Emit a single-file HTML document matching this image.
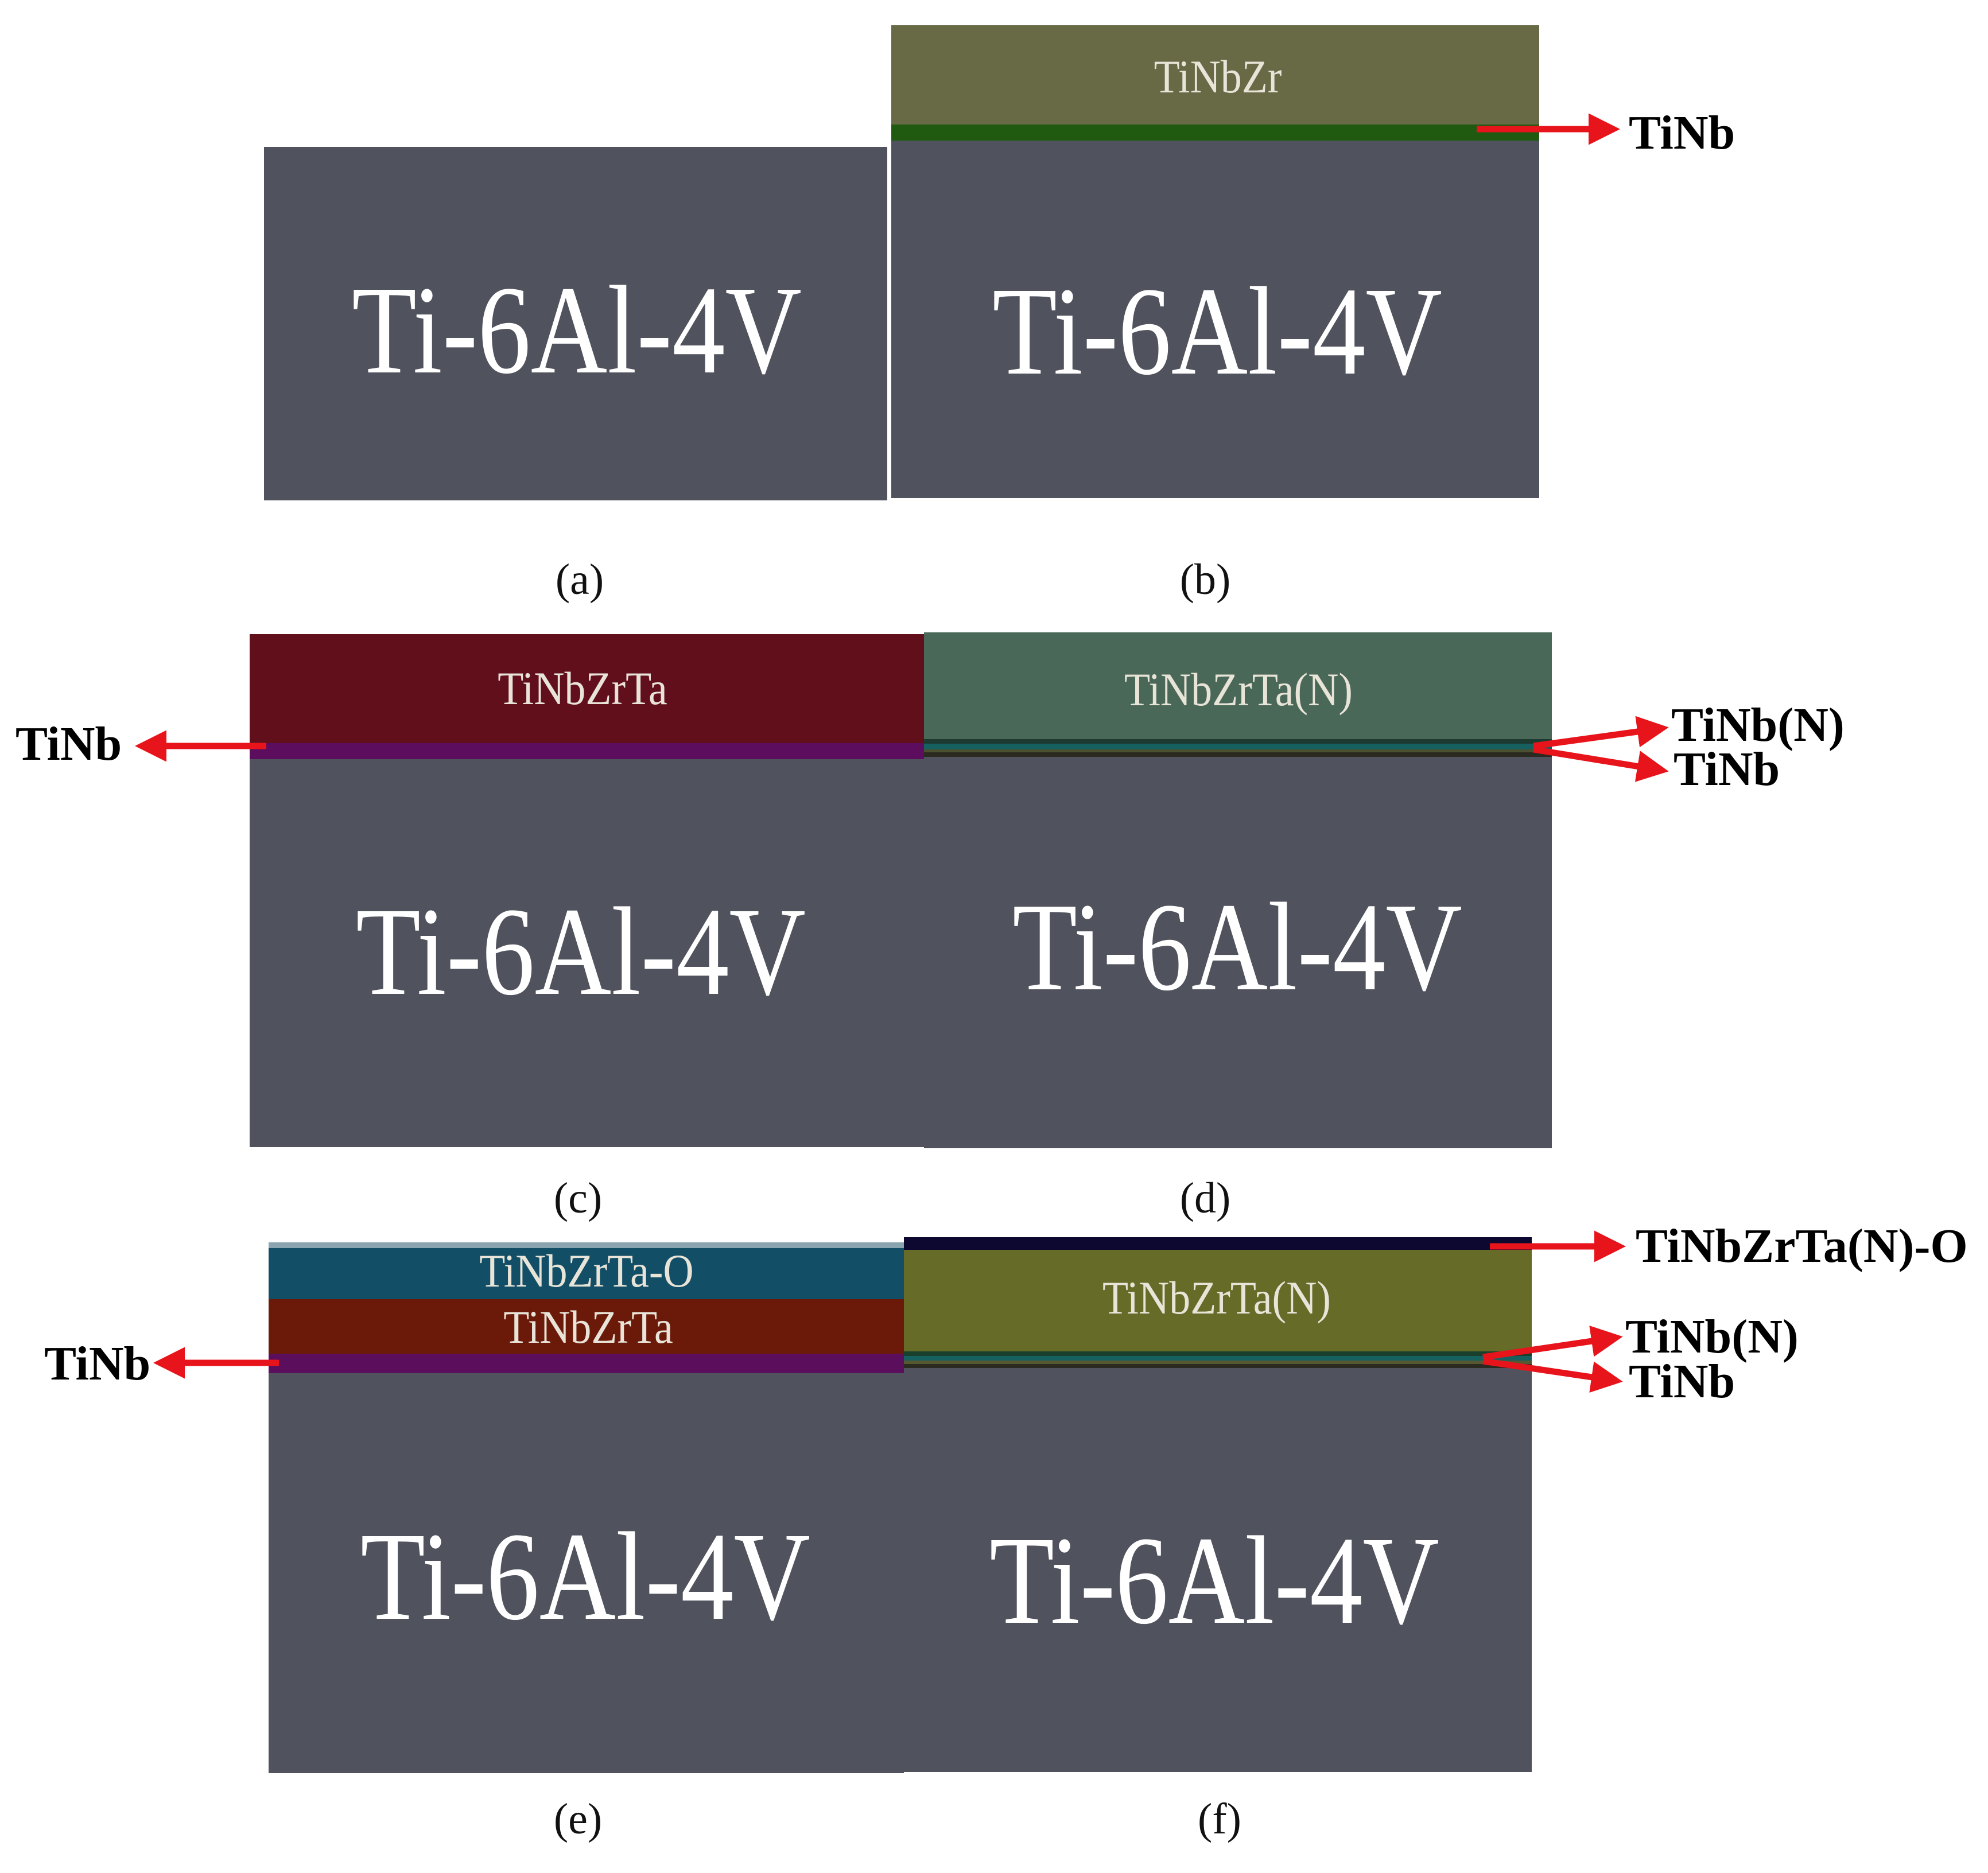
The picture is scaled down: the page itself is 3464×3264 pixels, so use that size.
<!DOCTYPE html>
<html><head><meta charset="utf-8"><style>
body{margin:0;width:3464px;height:3264px;background:#fff;position:relative;overflow:hidden;font-family:"Liberation Serif",serif}
.r{position:absolute}
.t{position:absolute;white-space:nowrap;transform:translate(-50%,-50%);line-height:1}
.big{font-size:220px;color:#fff;transform:translate(-50%,-50%) scaleX(0.84)}
.lay{font-size:82px;color:#e8e4d8;transform:translate(-50%,-50%) scaleX(0.9)}
.lab{font-size:84px;font-weight:bold;color:#000;transform:translate(0,-50%);transform-origin:left center}
.cap{font-size:76px;color:#111}
</style></head><body>
<!-- (a) -->
<div class="r" style="left:460px;top:256px;width:1086px;height:616px;background:#50535d"></div>
<div class="t big" style="left:1005px;top:575px">Ti-6Al-4V</div>
<!-- (b) -->
<div class="r" style="left:1553px;top:44px;width:1129px;height:173px;background:#676a45"></div>
<div class="r" style="left:1553px;top:217px;width:1129px;height:28px;background:#1f5a10"></div>
<div class="r" style="left:1553px;top:245px;width:1129px;height:623px;background:#50535d"></div>
<div class="t lay" style="left:2122px;top:134px">TiNbZr</div>
<div class="t big" style="left:2121px;top:577px">Ti-6Al-4V</div>
<div class="t lab" style="left:2838px;top:232px">TiNb</div>
<div class="t cap" style="left:1010px;top:1010px">(a)</div>
<div class="t cap" style="left:2100px;top:1010px">(b)</div>
<!-- (c) -->
<div class="r" style="left:435px;top:1105px;width:1175px;height:190px;background:#620f1c"></div>
<div class="r" style="left:435px;top:1295px;width:1175px;height:28px;background:#5d0d5d"></div>
<div class="r" style="left:435px;top:1323px;width:1175px;height:676px;background:#50535d"></div>
<div class="t lay" style="left:1015px;top:1200px">TiNbZrTa</div>
<div class="t big" style="left:1012px;top:1658px">Ti-6Al-4V</div>
<!-- (d) -->
<div class="r" style="left:1610px;top:1102px;width:1094px;height:186px;background:#4a6858"></div>
<div class="r" style="left:1610px;top:1288px;width:1094px;height:8px;background:#1c3a30"></div>
<div class="r" style="left:1610px;top:1296px;width:1094px;height:10px;background:#176060"></div>
<div class="r" style="left:1610px;top:1306px;width:1094px;height:5px;background:#4a5030"></div>
<div class="r" style="left:1610px;top:1311px;width:1094px;height:8px;background:#2a2a20"></div>
<div class="r" style="left:1610px;top:1319px;width:1094px;height:682px;background:#50535d"></div>
<div class="t lay" style="left:2158px;top:1202px">TiNbZrTa(N)</div>
<div class="t big" style="left:2156px;top:1650px">Ti-6Al-4V</div>
<div class="t lab" style="left:27px;top:1297px">TiNb</div>
<div class="t lab" style="left:2912px;top:1264px">TiNb(N)</div>
<div class="t lab" style="left:2916px;top:1341px">TiNb</div>
<div class="t cap" style="left:1007px;top:2088px">(c)</div>
<div class="t cap" style="left:2100px;top:2088px">(d)</div>
<!-- (e) -->
<div class="r" style="left:468px;top:2165px;width:1107px;height:10px;background:#8aa4b0"></div>
<div class="r" style="left:468px;top:2175px;width:1107px;height:89px;background:#124e66"></div>
<div class="r" style="left:468px;top:2264px;width:1107px;height:95px;background:#6b1a0a"></div>
<div class="r" style="left:468px;top:2359px;width:1107px;height:34px;background:#5a0e5c"></div>
<div class="r" style="left:468px;top:2393px;width:1107px;height:697px;background:#50535d"></div>
<div class="t lay" style="left:1022px;top:2215px">TiNbZrTa-O</div>
<div class="t lay" style="left:1025px;top:2313px">TiNbZrTa</div>
<div class="t big" style="left:1020px;top:2747px">Ti-6Al-4V</div>
<!-- (f) -->
<div class="r" style="left:1575px;top:2156px;width:1094px;height:22px;background:#0c0830"></div>
<div class="r" style="left:1575px;top:2178px;width:1094px;height:177px;background:#666b28"></div>
<div class="r" style="left:1575px;top:2355px;width:1094px;height:8px;background:#18402c"></div>
<div class="r" style="left:1575px;top:2363px;width:1094px;height:8px;background:#176060"></div>
<div class="r" style="left:1575px;top:2371px;width:1094px;height:6px;background:#555830"></div>
<div class="r" style="left:1575px;top:2377px;width:1094px;height:7px;background:#2a2a20"></div>
<div class="r" style="left:1575px;top:2384px;width:1094px;height:704px;background:#50535d"></div>
<div class="t lay" style="left:2120px;top:2262px">TiNbZrTa(N)</div>
<div class="t big" style="left:2116px;top:2754px">Ti-6Al-4V</div>
<div class="t lab" style="left:77px;top:2377px">TiNb</div>
<div class="t lab" style="left:2850px;top:2172px">TiNbZrTa(N)-O</div>
<div class="t lab" style="left:2832px;top:2330px">TiNb(N)</div>
<div class="t lab" style="left:2838px;top:2408px">TiNb</div>
<div class="t cap" style="left:1007px;top:3170px">(e)</div>
<div class="t cap" style="left:2125px;top:3170px">(f)</div>
<svg class="r" style="left:0;top:0" width="3464" height="3264">
<defs><marker id="h" markerWidth="5" markerHeight="5" refX="2" refY="2.5" orient="auto" markerUnits="strokeWidth"><path d="M0,0L5,2.5L0,5z" fill="#e8141c"/></marker></defs>
<g stroke="#e8141c" stroke-width="11" fill="none" marker-end="url(#h)">
<line x1="2573" y1="225" x2="2790" y2="225"/>
<line x1="464" y1="1300" x2="268" y2="1300"/>
<line x1="2672" y1="1300" x2="2875" y2="1272"/>
<line x1="2672" y1="1306" x2="2875" y2="1339"/>
<line x1="486" y1="2375" x2="300" y2="2375"/>
<line x1="2596" y1="2172" x2="2800" y2="2172"/>
<line x1="2584" y1="2365" x2="2795" y2="2334"/>
<line x1="2584" y1="2372" x2="2795" y2="2403"/>
</g></svg>
</body></html>
